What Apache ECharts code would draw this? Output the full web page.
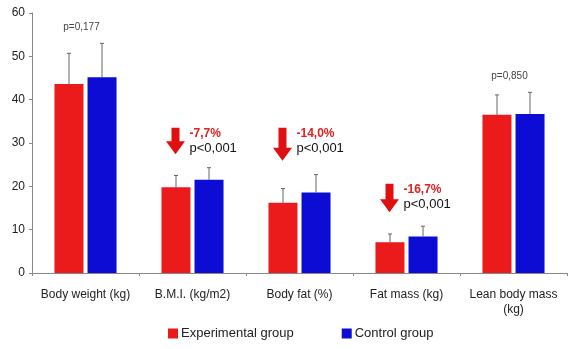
<!DOCTYPE html>
<html>
<head>
<meta charset="utf-8">
<script src="https://cdn.jsdelivr.net/npm/echarts@6/dist/echarts.min.js"></script>
<style>
  html, body { margin: 0; padding: 0; background: #fff; }
  #main { width: 571px; height: 349px; }
</style>
</head>
<body>
<div id="main"></div>
<script>
// data
const categories = ['Body weight (kg)', 'B.M.I. (kg/m2)', 'Body fat (%)', 'Fat mass (kg)', 'Lean body mass\n(kg)']
const experimental = [43.6, 19.8, 16.2, 7.1, 36.5]
const experimentalSD = [7.1, 2.7, 3.3, 1.9, 4.6]
const control = [45.2, 21.5, 18.6, 8.4, 36.7]
const controlSD = [7.8, 2.8, 4.1, 2.4, 5.0]
const yTicks = [0, 10, 20, 30, 40, 50, 60]

// annotations: category index, arrow top / bottom (axis units), change, p
const arrowCats = [1, 2, 3]
const arrowTop = [33.5, 33.5, 20.6]
const arrowBottom = [27.4, 25.9, 14.0]
const changes = ['-7,7%', '-14,0%', '-16,7%']
const pArrow = ['p<0,001', 'p<0,001', 'p<0,001']
const nsCats = [0, 4]
const nsY = [56.8, 45.5]
const nsText = ['p=0,177', 'p=0,850']

const RED = '#ec1b1b'
const BLUE = '#0c0cd4'
const FONT = '"Liberation Sans", Arial, sans-serif'

const errData = (means, sds) => means.map((m, i) => [i, m, m + sds[i]])

const errSeries = (means, sds, offset) => ({
  type: 'custom',
  z: 5,
  silent: true,
  data: errData(means, sds),
  renderItem: (params, api) => {
    const base = api.coord([api.value(0), api.value(1)])
    const top = api.coord([api.value(0), api.value(2)])
    const x = base[0] + offset
    return {
      type: 'group',
      children: [
        { type: 'line', shape: { x1: x, y1: base[1], x2: x, y2: top[1] }, style: { stroke: '#666', lineWidth: 1 } },
        { type: 'line', shape: { x1: x - 2, y1: top[1], x2: x + 2, y2: top[1] }, style: { stroke: '#666', lineWidth: 1 } },
      ],
    }
  },
})

const arrowData = arrowCats.map((c, i) => [c, arrowTop[i], arrowBottom[i], changes[i], pArrow[i]])

let option = {
  animation: false,
  backgroundColor: '#fff',
  textStyle: { fontFamily: FONT },
  grid: { left: 32, right: 4, top: 13, bottom: 76 },
  legend: {
    data: ['Experimental group', 'Control group'],
    left: 163,
    top: 322,
    itemWidth: 10,
    itemHeight: 10,
    itemGap: 48,
    icon: 'rect',
    textStyle: { fontSize: 13, color: '#222', fontFamily: FONT, padding: [0, 0, 0, -2] },
  },
  xAxis: {
    type: 'category',
    data: categories,
    axisLine: { lineStyle: { color: '#888' } },
    axisTick: { show: true, length: 3, lineStyle: { color: '#888' } },
    axisLabel: { interval: 0, fontSize: 12, color: '#222', margin: 14, lineHeight: 15, fontFamily: FONT },
  },
  yAxis: {
    type: 'value',
    min: 0,
    max: 60,
    interval: 10,
    axisLine: { show: true, lineStyle: { color: '#888' } },
    axisTick: { show: true, length: 3, lineStyle: { color: '#888' } },
    splitLine: { show: false },
    axisLabel: {
      fontSize: 12,
      color: '#222',
      margin: 7,
      fontFamily: FONT,
      formatter: (v) => (yTicks.includes(v) ? String(v) : ''),
    },
  },
  series: [
    {
      name: 'Experimental group',
      type: 'bar',
      data: experimental,
      barWidth: 29,
      barGap: '14%',
      itemStyle: { color: RED },
    },
    {
      name: 'Control group',
      type: 'bar',
      data: control,
      barWidth: 29,
      itemStyle: { color: BLUE },
    },
    errSeries(experimental, experimentalSD, -16.5),
    errSeries(control, controlSD, 16.5),
    {
      type: 'custom',
      z: 6,
      silent: true,
      data: arrowData,
      renderItem: (params, api) => {
        const c = api.value(0)
        const top = api.coord([c, api.value(1)])
        const bot = api.coord([c, api.value(2)])
        const cx = top[0] - 17
        const headH = 13
        const shaftW = 4
        const headW = 9.5
        const yh = bot[1] - headH
        const txt = arrowData[params.dataIndex]
        return {
          type: 'group',
          children: [
            {
              type: 'polygon',
              shape: {
                points: [
                  [cx - shaftW, top[1]], [cx + shaftW, top[1]], [cx + shaftW, yh], [cx + headW, yh],
                  [cx, bot[1]], [cx - headW, yh], [cx - shaftW, yh],
                ],
              },
              style: { fill: '#e01010' },
            },
            {
              type: 'text',
              x: top[0] - 3,
              y: top[1] + 6,
              style: { text: txt[3], fill: '#e02020', font: 'bold 12px ' + FONT, verticalAlign: 'middle' },
            },
            {
              type: 'text',
              x: top[0] - 3,
              y: top[1] + 21,
              style: { text: txt[4], fill: '#111', font: '13px ' + FONT, verticalAlign: 'middle' },
            },
          ],
        }
      },
    },
    {
      type: 'custom',
      z: 6,
      silent: true,
      data: nsCats.map((c, i) => [c, nsY[i], nsText[i]]),
      renderItem: (params, api) => {
        const p = api.coord([api.value(0), api.value(1)])
        return {
          type: 'text',
          x: p[0] - 4,
          y: p[1],
          style: { text: nsText[params.dataIndex], fill: '#444', font: '10px ' + FONT, align: 'center', verticalAlign: 'middle' },
        }
      },
    },
  ],
}

const myChart = echarts.init(document.getElementById('main'))
myChart.setOption(option)
</script>
</body>
</html>
